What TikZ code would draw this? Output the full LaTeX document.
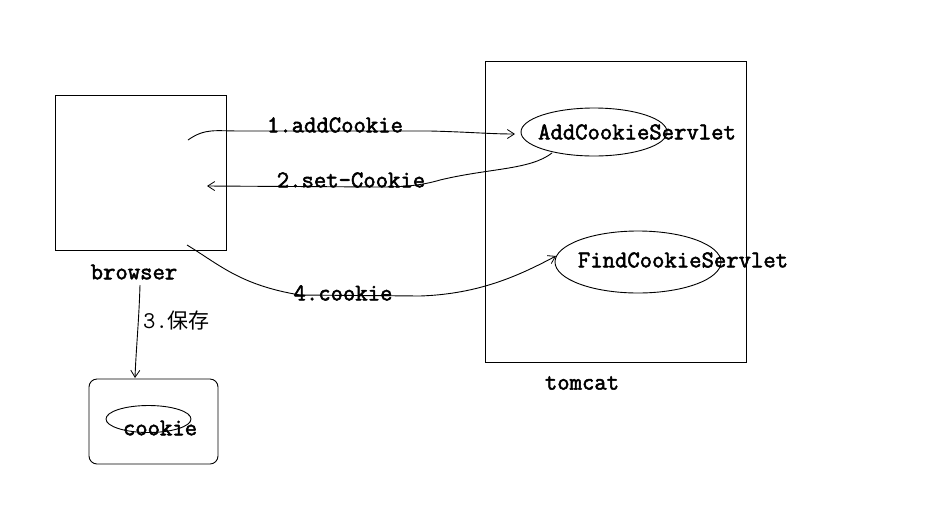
\documentclass[tikz,border=0pt]{standalone}
\usepackage{fontspec}
\newfontfamily\cjk{Noto Sans CJK SC}
\newfontfamily\heavymono[FakeBold=2.2]{Latin Modern Mono}
\usetikzlibrary{arrows.meta,shapes.geometric}
\begin{document}
\begin{tikzpicture}[x=1pt,y=-1pt,
  lbl/.style={font=\heavymono\fontsize{24}{24}\selectfont, inner sep=0pt},
  box/.style={draw, line width=0.9pt, inner sep=0pt},
  ell/.style={draw, ellipse, line width=0.9pt, inner sep=0pt},
  conn/.style={line width=0.9pt, -{Straight Barb[length=7pt,width=9pt,line width=0.8pt]}}]
\useasboundingbox[fill=white] (0,0) rectangle (933,531);
% boxes
\node[box, minimum width=171pt, minimum height=155pt] (browser) at (140.5,172.5) {};
\node[lbl] (browserlbl) at (134,272) {browser};
\node[box, minimum width=261pt, minimum height=301pt] (tomcat) at (615.5,211.5) {};
\node[lbl] (tomcatlbl) at (582,383) {tomcat};
% servlets
\node[ell, minimum width=146pt, minimum height=48pt] (add) at (594,132) {};
\node[lbl] (addlbl) at (637,132) {AddCookieServlet};
\node[ell, minimum width=166pt, minimum height=62pt] (find) at (638,262) {};
\node[lbl] (findlbl) at (683,260) {FindCookieServlet};
% cookie store
\node[box, rounded corners=8pt, minimum width=129pt, minimum height=85pt] (store) at (153.5,421.5) {};
\node[ell, minimum width=85pt, minimum height=27pt] (cookieell) at (148.5,419) {};
\node[lbl] (cookielbl) at (160,428) {cookie};
% anchor points
\coordinate (s1) at (188,140);
\coordinate (e1) at (515,134);
\coordinate (s2) at (552,153);
\coordinate (e2) at (207,186);
\coordinate (s4) at (187,245);
\coordinate (e4) at (556,256);
\coordinate (s3) at (140,285);
\coordinate (e3) at (135,378);
% connectors
\draw[conn] (s1) .. controls (205,128) and (215,131) .. (240,131) -- (430,131) .. controls (470,132) and (490,134) .. (e1);
\draw[conn] (s2) .. controls (530,170) and (490,168) .. (440,180) .. controls (420,186) and (400,187) .. (380,187) -- (e2);
\draw[conn] (s4) .. controls (220,265) and (240,285) .. (300,295) -- (420,296) .. controls (480,294) and (520,275) .. (e4);
\draw[conn] (s3) .. controls (139,320) and (136,350) .. (e3);
% labels
\node[lbl] (l1) at (335,125) {1.addCookie};
\node[lbl] (l2) at (351,180) {2.set-Cookie};
\node[lbl] (l4) at (343,293) {4.cookie};
\node[lbl, anchor=west] (l3) at (143,321) {\ttfamily\fontsize{24}{24}\selectfont 3.\cjk\fontsize{21}{21}\selectfont 保存};
\end{tikzpicture}
\end{document}
